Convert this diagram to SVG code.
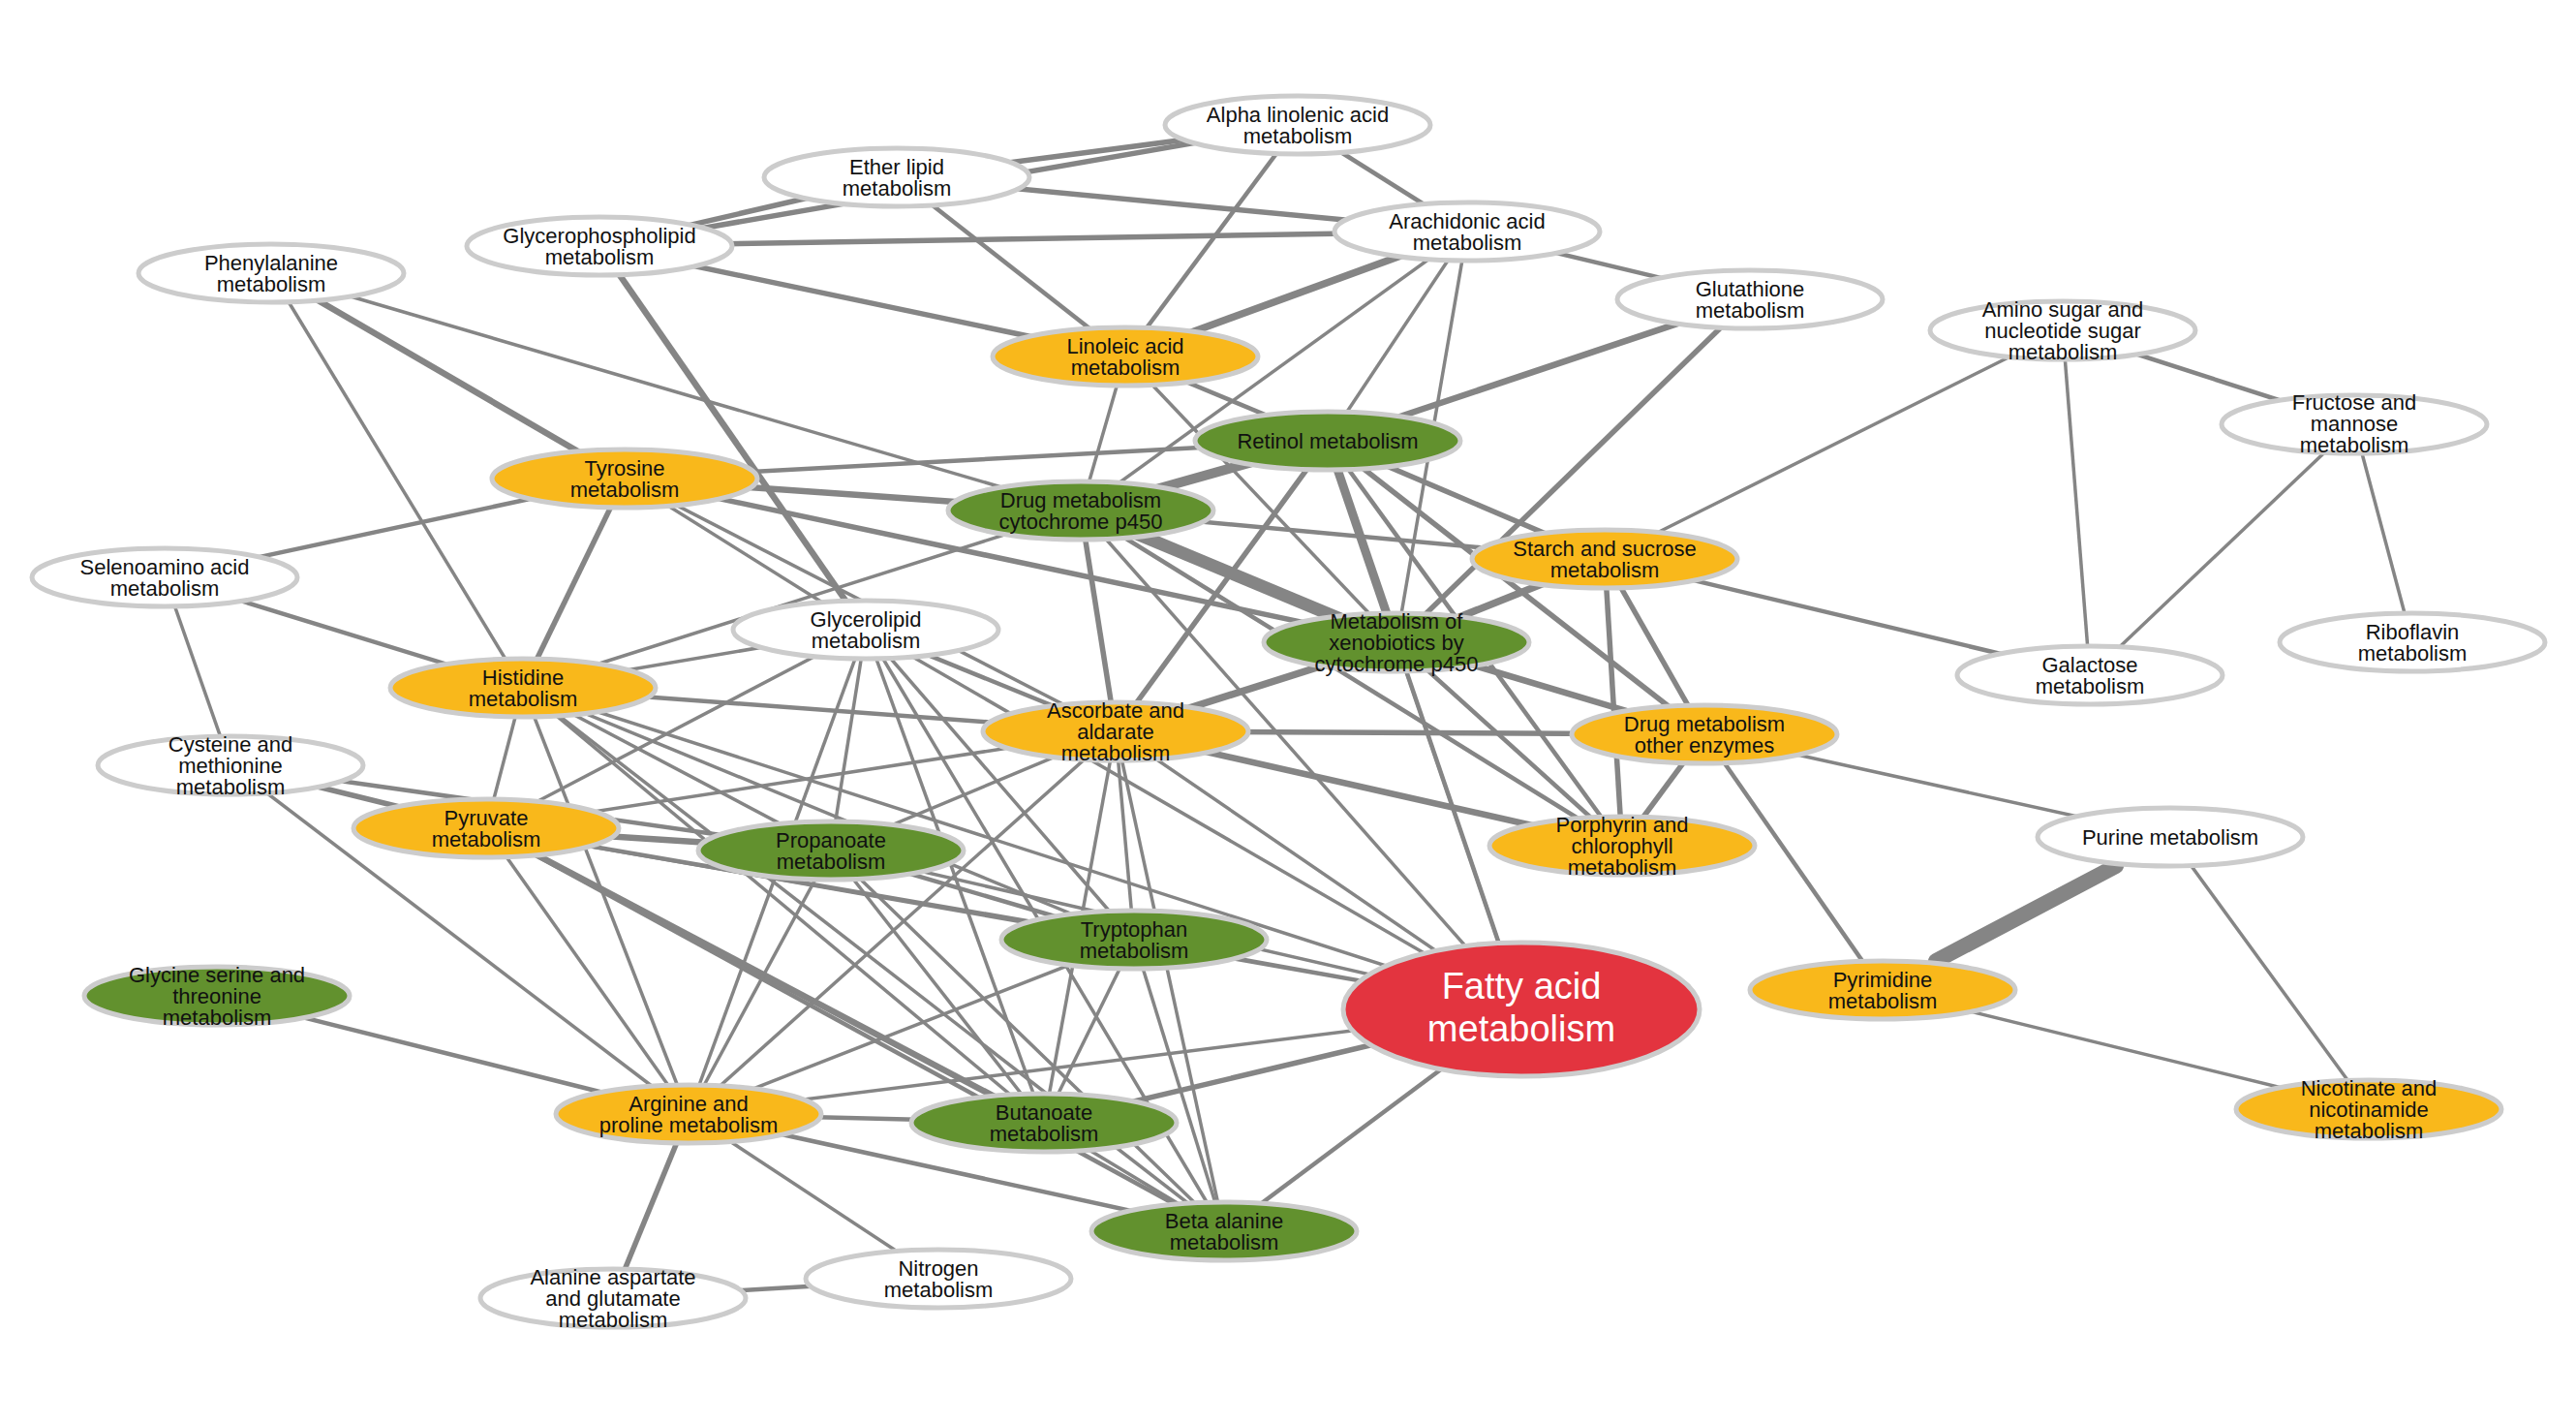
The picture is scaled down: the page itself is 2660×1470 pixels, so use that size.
<svg xmlns="http://www.w3.org/2000/svg" width="2660" height="1470" viewBox="0 0 2660 1470">
<style>
.bg{fill:#ffffff}
#edges line{stroke:#858585;stroke-linecap:butt}
.w3{stroke-width:3.5}.w4{stroke-width:4.5}.w5{stroke-width:5.5}.w6{stroke-width:6.5}.w7{stroke-width:7.5}.w8{stroke-width:9}.w9{stroke-width:10}.w12{stroke-width:13}
.node ellipse{stroke:#cccccc;stroke-width:5}
.wh ellipse{fill:#ffffff}.ye ellipse{fill:#F9B81B}.gr ellipse{fill:#62912E}.re ellipse{fill:#E3343F}
.node text{font-family:"Liberation Sans",Arial,sans-serif;font-size:22px;text-anchor:middle;fill:#111111}
.re text{font-size:38px;fill:#ffffff}
</style>
<rect class="bg" x="0" y="0" width="2660" height="1470"/>
<g id="edges">
<line class="w5" x1="619" y1="254" x2="926" y2="183"/>
<line class="w5" x1="619" y1="254" x2="1340" y2="129"/>
<line class="w5" x1="926" y1="183" x2="1340" y2="129"/>
<line class="w5" x1="926" y1="183" x2="1515" y2="239"/>
<line class="w5" x1="619" y1="254" x2="1515" y2="239"/>
<line class="w4" x1="926" y1="183" x2="1162" y2="368"/>
<line class="w5" x1="619" y1="254" x2="1162" y2="368"/>
<line class="w4" x1="1340" y1="129" x2="1162" y2="368"/>
<line class="w4" x1="1340" y1="129" x2="1515" y2="239"/>
<line class="w4" x1="1515" y1="239" x2="1807" y2="309"/>
<line class="w7" x1="1515" y1="239" x2="1162" y2="368"/>
<line class="w3" x1="1515" y1="239" x2="1116" y2="527"/>
<line class="w3" x1="1515" y1="239" x2="1371" y2="455"/>
<line class="w3" x1="1515" y1="239" x2="1442" y2="663"/>
<line class="w6" x1="1807" y1="309" x2="1371" y2="455"/>
<line class="w5" x1="1807" y1="309" x2="1442" y2="663"/>
<line class="w6" x1="619" y1="254" x2="894" y2="650"/>
<line class="w3" x1="1162" y1="368" x2="1116" y2="527"/>
<line class="w4" x1="1162" y1="368" x2="1371" y2="455"/>
<line class="w3" x1="1162" y1="368" x2="1442" y2="663"/>
<line class="w3" x1="280" y1="282" x2="540" y2="710"/>
<line class="w6" x1="280" y1="282" x2="645" y2="494"/>
<line class="w3" x1="280" y1="282" x2="1116" y2="527"/>
<line class="w4" x1="645" y1="494" x2="170" y2="596"/>
<line class="w5" x1="645" y1="494" x2="540" y2="710"/>
<line class="w4" x1="645" y1="494" x2="1371" y2="455"/>
<line class="w6" x1="645" y1="494" x2="1116" y2="527"/>
<line class="w5" x1="645" y1="494" x2="1442" y2="663"/>
<line class="w3" x1="645" y1="494" x2="894" y2="650"/>
<line class="w3" x1="645" y1="494" x2="1152" y2="755"/>
<line class="w4" x1="170" y1="596" x2="540" y2="710"/>
<line class="w3" x1="170" y1="596" x2="238" y2="790"/>
<line class="w5" x1="238" y1="790" x2="502" y2="855"/>
<line class="w4" x1="238" y1="790" x2="858" y2="878"/>
<line class="w3" x1="238" y1="790" x2="711" y2="1150"/>
<line class="w3" x1="540" y1="710" x2="894" y2="650"/>
<line class="w3" x1="540" y1="710" x2="1116" y2="527"/>
<line class="w4" x1="540" y1="710" x2="1152" y2="755"/>
<line class="w3" x1="540" y1="710" x2="502" y2="855"/>
<line class="w3" x1="540" y1="710" x2="711" y2="1150"/>
<line class="w3" x1="540" y1="710" x2="858" y2="878"/>
<line class="w3" x1="540" y1="710" x2="1171" y2="970"/>
<line class="w3" x1="540" y1="710" x2="1078" y2="1159"/>
<line class="w3" x1="540" y1="710" x2="1264" y2="1271"/>
<line class="w3" x1="540" y1="710" x2="1571" y2="1042"/>
<line class="w3" x1="502" y1="855" x2="894" y2="650"/>
<line class="w3" x1="502" y1="855" x2="1152" y2="755"/>
<line class="w6" x1="502" y1="855" x2="858" y2="878"/>
<line class="w4" x1="502" y1="855" x2="1171" y2="970"/>
<line class="w3" x1="502" y1="855" x2="1571" y2="1042"/>
<line class="w6" x1="502" y1="855" x2="1078" y2="1159"/>
<line class="w4" x1="502" y1="855" x2="1264" y2="1271"/>
<line class="w3" x1="502" y1="855" x2="711" y2="1150"/>
<line class="w4" x1="894" y1="650" x2="1152" y2="755"/>
<line class="w3" x1="894" y1="650" x2="858" y2="878"/>
<line class="w3" x1="894" y1="650" x2="711" y2="1150"/>
<line class="w3" x1="894" y1="650" x2="1171" y2="970"/>
<line class="w3" x1="894" y1="650" x2="1078" y2="1159"/>
<line class="w3" x1="894" y1="650" x2="1264" y2="1271"/>
<line class="w3" x1="894" y1="650" x2="1571" y2="1042"/>
<line class="w5" x1="1152" y1="755" x2="1371" y2="455"/>
<line class="w7" x1="1152" y1="755" x2="1442" y2="663"/>
<line class="w5" x1="1152" y1="755" x2="1760" y2="758"/>
<line class="w6" x1="1152" y1="755" x2="1675" y2="873"/>
<line class="w5" x1="1152" y1="755" x2="1116" y2="527"/>
<line class="w3" x1="1152" y1="755" x2="1171" y2="970"/>
<line class="w3" x1="1152" y1="755" x2="1264" y2="1271"/>
<line class="w3" x1="1152" y1="755" x2="1078" y2="1159"/>
<line class="w3" x1="1152" y1="755" x2="711" y2="1150"/>
<line class="w3" x1="1152" y1="755" x2="858" y2="878"/>
<line class="w3" x1="1152" y1="755" x2="1571" y2="1042"/>
<line class="w9" x1="1116" y1="527" x2="1371" y2="455"/>
<line class="w12" x1="1116" y1="527" x2="1442" y2="663"/>
<line class="w4" x1="1116" y1="527" x2="1657" y2="577"/>
<line class="w4" x1="1116" y1="527" x2="1675" y2="873"/>
<line class="w3" x1="1116" y1="527" x2="1571" y2="1042"/>
<line class="w8" x1="1371" y1="455" x2="1442" y2="663"/>
<line class="w3" x1="1371" y1="455" x2="1571" y2="1042"/>
<line class="w5" x1="1371" y1="455" x2="1657" y2="577"/>
<line class="w5" x1="1371" y1="455" x2="1760" y2="758"/>
<line class="w4" x1="1371" y1="455" x2="1675" y2="873"/>
<line class="w7" x1="1442" y1="663" x2="1657" y2="577"/>
<line class="w6" x1="1442" y1="663" x2="1760" y2="758"/>
<line class="w4" x1="1442" y1="663" x2="1675" y2="873"/>
<line class="w4" x1="1442" y1="663" x2="1571" y2="1042"/>
<line class="w5" x1="1657" y1="577" x2="1760" y2="758"/>
<line class="w5" x1="1657" y1="577" x2="1675" y2="873"/>
<line class="w4" x1="1657" y1="577" x2="2158" y2="697"/>
<line class="w3" x1="1657" y1="577" x2="2130" y2="341"/>
<line class="w3" x1="1760" y1="758" x2="2241" y2="864"/>
<line class="w4" x1="1760" y1="758" x2="1944" y2="1022"/>
<line class="w5" x1="1760" y1="758" x2="1675" y2="873"/>
<line class="w4" x1="2130" y1="341" x2="2431" y2="438"/>
<line class="w3" x1="2130" y1="341" x2="2158" y2="697"/>
<line class="w3" x1="2431" y1="438" x2="2158" y2="697"/>
<line class="w3" x1="2431" y1="438" x2="2491" y2="663"/>
<line x1="1999" y1="992" x2="2185" y2="894" style="stroke-width:16;stroke-linecap:round"/>
<line class="w3" x1="2241" y1="864" x2="2446" y2="1145"/>
<line class="w3" x1="1944" y1="1022" x2="2446" y2="1145"/>
<line class="w3" x1="1171" y1="970" x2="1571" y2="1042"/>
<line class="w3" x1="1171" y1="970" x2="1078" y2="1159"/>
<line class="w3" x1="1171" y1="970" x2="1264" y2="1271"/>
<line class="w3" x1="1171" y1="970" x2="711" y2="1150"/>
<line class="w4" x1="858" y1="878" x2="1171" y2="970"/>
<line class="w3" x1="858" y1="878" x2="1078" y2="1159"/>
<line class="w3" x1="858" y1="878" x2="1264" y2="1271"/>
<line class="w3" x1="858" y1="878" x2="711" y2="1150"/>
<line class="w3" x1="858" y1="878" x2="1571" y2="1042"/>
<line class="w4" x1="1078" y1="1159" x2="711" y2="1150"/>
<line class="w3" x1="1078" y1="1159" x2="1264" y2="1271"/>
<line class="w5" x1="1078" y1="1159" x2="1571" y2="1042"/>
<line class="w4" x1="711" y1="1150" x2="224" y2="1028"/>
<line class="w5" x1="711" y1="1150" x2="633" y2="1340"/>
<line class="w3" x1="711" y1="1150" x2="969" y2="1320"/>
<line class="w4" x1="711" y1="1150" x2="1264" y2="1271"/>
<line class="w3" x1="711" y1="1150" x2="1571" y2="1042"/>
<line class="w4" x1="1264" y1="1271" x2="1571" y2="1042"/>
<line class="w4" x1="633" y1="1340" x2="969" y2="1320"/>
</g>
<g id="n-alpha" class="node wh"><ellipse cx="1340" cy="129" rx="137" ry="30"/><text x="1340" y="126">Alpha linolenic acid</text><text x="1340" y="148">metabolism</text></g>
<g id="n-ether" class="node wh"><ellipse cx="926" cy="183" rx="137" ry="30"/><text x="926" y="180">Ether lipid</text><text x="926" y="202">metabolism</text></g>
<g id="n-glyph" class="node wh"><ellipse cx="619" cy="254" rx="137" ry="30"/><text x="619" y="251">Glycerophospholipid</text><text x="619" y="273">metabolism</text></g>
<g id="n-arach" class="node wh"><ellipse cx="1515" cy="239" rx="137" ry="30"/><text x="1515" y="236">Arachidonic acid</text><text x="1515" y="258">metabolism</text></g>
<g id="n-phe" class="node wh"><ellipse cx="280" cy="282" rx="137" ry="30"/><text x="280" y="279">Phenylalanine</text><text x="280" y="301">metabolism</text></g>
<g id="n-glut" class="node wh"><ellipse cx="1807" cy="309" rx="137" ry="30"/><text x="1807" y="306">Glutathione</text><text x="1807" y="328">metabolism</text></g>
<g id="n-amino" class="node wh"><ellipse cx="2130" cy="341" rx="137" ry="30"/><text x="2130" y="327">Amino sugar and</text><text x="2130" y="349">nucleotide sugar</text><text x="2130" y="371">metabolism</text></g>
<g id="n-linol" class="node ye"><ellipse cx="1162" cy="368" rx="137" ry="30"/><text x="1162" y="365">Linoleic acid</text><text x="1162" y="387">metabolism</text></g>
<g id="n-fruc" class="node wh"><ellipse cx="2431" cy="438" rx="137" ry="30"/><text x="2431" y="423">Fructose and</text><text x="2431" y="445">mannose</text><text x="2431" y="467">metabolism</text></g>
<g id="n-retinol" class="node gr"><ellipse cx="1371" cy="455" rx="137" ry="30"/><text x="1371" y="463">Retinol metabolism</text></g>
<g id="n-tyr" class="node ye"><ellipse cx="645" cy="494" rx="137" ry="30"/><text x="645" y="491">Tyrosine</text><text x="645" y="513">metabolism</text></g>
<g id="n-dp450" class="node gr"><ellipse cx="1116" cy="527" rx="137" ry="30"/><text x="1116" y="524">Drug metabolism</text><text x="1116" y="546">cytochrome p450</text></g>
<g id="n-seleno" class="node wh"><ellipse cx="170" cy="596" rx="137" ry="30"/><text x="170" y="593">Selenoamino acid</text><text x="170" y="615">metabolism</text></g>
<g id="n-starch" class="node ye"><ellipse cx="1657" cy="577" rx="137" ry="30"/><text x="1657" y="574">Starch and sucrose</text><text x="1657" y="596">metabolism</text></g>
<g id="n-glycerol" class="node wh"><ellipse cx="894" cy="650" rx="137" ry="30"/><text x="894" y="647">Glycerolipid</text><text x="894" y="669">metabolism</text></g>
<g id="n-xeno" class="node gr"><ellipse cx="1442" cy="663" rx="137" ry="30"/><text x="1442" y="649">Metabolism of</text><text x="1442" y="671">xenobiotics by</text><text x="1442" y="693">cytochrome p450</text></g>
<g id="n-ribo" class="node wh"><ellipse cx="2491" cy="663" rx="137" ry="30"/><text x="2491" y="660">Riboflavin</text><text x="2491" y="682">metabolism</text></g>
<g id="n-galac" class="node wh"><ellipse cx="2158" cy="697" rx="137" ry="30"/><text x="2158" y="694">Galactose</text><text x="2158" y="716">metabolism</text></g>
<g id="n-his" class="node ye"><ellipse cx="540" cy="710" rx="137" ry="30"/><text x="540" y="707">Histidine</text><text x="540" y="729">metabolism</text></g>
<g id="n-asc" class="node ye"><ellipse cx="1152" cy="755" rx="137" ry="30"/><text x="1152" y="741">Ascorbate and</text><text x="1152" y="763">aldarate</text><text x="1152" y="785">metabolism</text></g>
<g id="n-doe" class="node ye"><ellipse cx="1760" cy="758" rx="137" ry="30"/><text x="1760" y="755">Drug metabolism</text><text x="1760" y="777">other enzymes</text></g>
<g id="n-cys" class="node wh"><ellipse cx="238" cy="790" rx="137" ry="30"/><text x="238" y="776">Cysteine and</text><text x="238" y="798">methionine</text><text x="238" y="820">metabolism</text></g>
<g id="n-pyr" class="node ye"><ellipse cx="502" cy="855" rx="137" ry="30"/><text x="502" y="852">Pyruvate</text><text x="502" y="874">metabolism</text></g>
<g id="n-porph" class="node ye"><ellipse cx="1675" cy="873" rx="137" ry="30"/><text x="1675" y="859">Porphyrin and</text><text x="1675" y="881">chlorophyll</text><text x="1675" y="903">metabolism</text></g>
<g id="n-purine" class="node wh"><ellipse cx="2241" cy="864" rx="137" ry="30"/><text x="2241" y="872">Purine metabolism</text></g>
<g id="n-prop" class="node gr"><ellipse cx="858" cy="878" rx="137" ry="30"/><text x="858" y="875">Propanoate</text><text x="858" y="897">metabolism</text></g>
<g id="n-trp" class="node gr"><ellipse cx="1171" cy="970" rx="137" ry="30"/><text x="1171" y="967">Tryptophan</text><text x="1171" y="989">metabolism</text></g>
<g id="n-fatty" class="node re"><ellipse cx="1571" cy="1042" rx="184" ry="69"/><text x="1571" y="1031">Fatty acid</text><text x="1571" y="1075">metabolism</text></g>
<g id="n-pyrim" class="node ye"><ellipse cx="1944" cy="1022" rx="137" ry="30"/><text x="1944" y="1019">Pyrimidine</text><text x="1944" y="1041">metabolism</text></g>
<g id="n-gly" class="node gr"><ellipse cx="224" cy="1028" rx="137" ry="30"/><text x="224" y="1014">Glycine serine and</text><text x="224" y="1036">threonine</text><text x="224" y="1058">metabolism</text></g>
<g id="n-nico" class="node ye"><ellipse cx="2446" cy="1145" rx="137" ry="30"/><text x="2446" y="1131">Nicotinate and</text><text x="2446" y="1153">nicotinamide</text><text x="2446" y="1175">metabolism</text></g>
<g id="n-arg" class="node ye"><ellipse cx="711" cy="1150" rx="137" ry="30"/><text x="711" y="1147">Arginine and</text><text x="711" y="1169">proline metabolism</text></g>
<g id="n-but" class="node gr"><ellipse cx="1078" cy="1159" rx="137" ry="30"/><text x="1078" y="1156">Butanoate</text><text x="1078" y="1178">metabolism</text></g>
<g id="n-beta" class="node gr"><ellipse cx="1264" cy="1271" rx="137" ry="30"/><text x="1264" y="1268">Beta alanine</text><text x="1264" y="1290">metabolism</text></g>
<g id="n-nitro" class="node wh"><ellipse cx="969" cy="1320" rx="137" ry="30"/><text x="969" y="1317">Nitrogen</text><text x="969" y="1339">metabolism</text></g>
<g id="n-ala" class="node wh"><ellipse cx="633" cy="1340" rx="137" ry="30"/><text x="633" y="1326">Alanine aspartate</text><text x="633" y="1348">and glutamate</text><text x="633" y="1370">metabolism</text></g>
</svg>
